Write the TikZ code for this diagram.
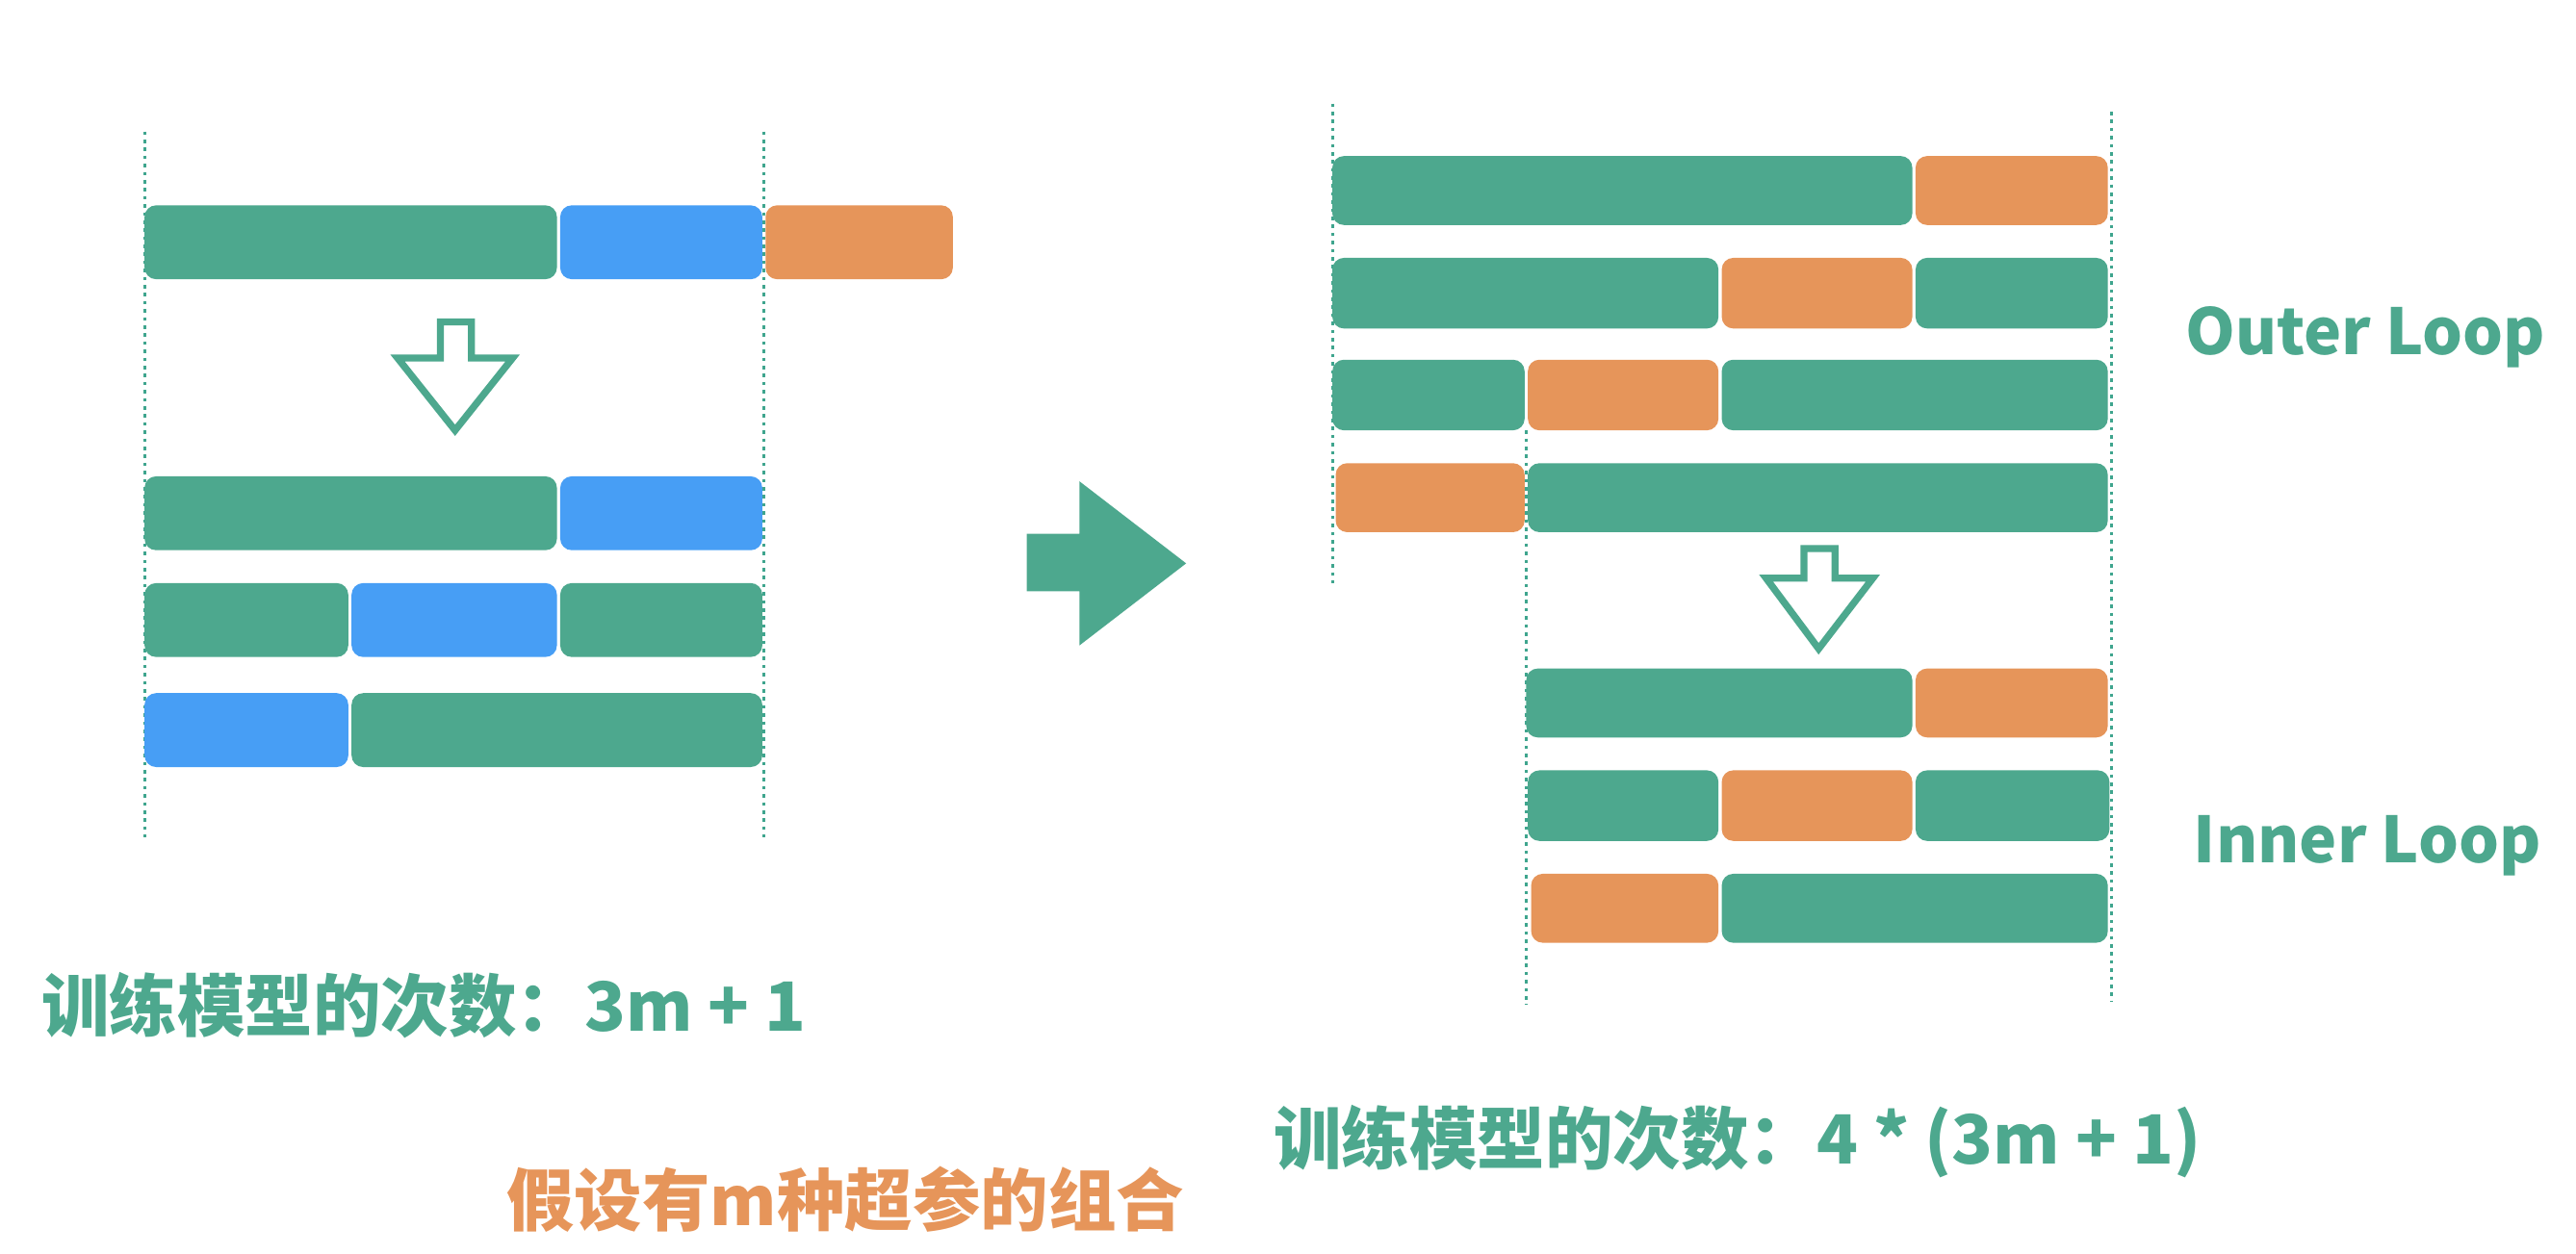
\documentclass[tikz,border=0pt]{standalone}
\usepackage{fontspec}
\newfontfamily\cjk{Noto Sans CJK SC}
\usetikzlibrary{positioning}

\begin{document}
\begin{tikzpicture}[x=0.2mm,y=-0.2mm,
  dots/.style={draw=guide,line width=1pt,dash pattern=on 1.2pt off 1.6pt},
  gbar/.style={fill=train,rounded corners=4pt},
  bbar/.style={fill=valid,rounded corners=4pt},
  obar/.style={fill=test,rounded corners=4pt},
  hollow/.style={draw=train,line width=0.85mm,fill=white,line join=miter},
  label/.style={anchor=west,inner sep=0pt,font=\cjk\bfseries\fontsize{23.5}{28}\selectfont},
  loop/.style={label,font=\cjk\bfseries\fontsize{22}{26}\selectfont}]
\definecolor{train}{RGB}{77,168,142}
\definecolor{valid}{RGB}{71,158,245}
\definecolor{test}{RGB}{230,149,90}
\definecolor{guide}{RGB}{63,165,142}

\useasboundingbox (0,0) rectangle (1568,763);

% Left: one split, then k-fold on the training part.
\draw[dots] (88,80)--(88,510);
\draw[dots] (465,80)--(465,510);
\fill[gbar] (88,125) rectangle (339,170);
\fill[bbar] (341,125) rectangle (464,170);
\fill[obar] (466,125) rectangle (580,170);
\draw[hollow] (268,196)--(287,196)--(287,218)--(312,218)--(277,262)--(242,218)--(268,218)--cycle;
\fill[gbar] (88,290) rectangle (339,335);
\fill[bbar] (341,290) rectangle (464,335);
\fill[gbar] (88,355) rectangle (212,400);
\fill[bbar] (214,355) rectangle (339,400);
\fill[gbar] (341,355) rectangle (464,400);
\fill[bbar] (88,422) rectangle (212,467);
\fill[gbar] (214,422) rectangle (464,467);
\node[label,text=train] (countL) at (25,612) {训练模型的次数：3m + 1};

% Middle arrow.
\fill[train] (625,325)--(657,325)--(657,293)--(722,343)--(657,393)--(657,360)--(625,360)--cycle;
\node[label,text=test] (combo) at (308,730) {假设有m种超参的组合};

% Right: outer loop.
\draw[dots] (811,63)--(811,355);
\draw[dots] (1285,68)--(1285,610);
\draw[dots] (929,262)--(929,612);
\fill[gbar] (811,95) rectangle (1164,137);
\fill[obar] (1166,95) rectangle (1283,137);
\fill[gbar] (811,157) rectangle (1046,200);
\fill[obar] (1048,157) rectangle (1164,200);
\fill[gbar] (1166,157) rectangle (1283,200);
\fill[gbar] (811,219) rectangle (928,262);
\fill[obar] (930,219) rectangle (1046,262);
\fill[gbar] (1048,219) rectangle (1283,262);
\fill[obar] (813,282) rectangle (928,324);
\fill[gbar] (930,282) rectangle (1283,324);
\node[loop,text=train] (outer) at (1330,205) {Outer Loop};

% Right: inner loop.
\draw[hollow] (1098,334)--(1117,334)--(1117,352)--(1140,352)--(1107,395)--(1075,352)--(1098,352)--cycle;
\fill[gbar] (929,407) rectangle (1164,449);
\fill[obar] (1166,407) rectangle (1283,449);
\fill[gbar] (930,469) rectangle (1046,512);
\fill[obar] (1048,469) rectangle (1164,512);
\fill[gbar] (1166,469) rectangle (1284,512);
\fill[obar] (932,532) rectangle (1046,574);
\fill[gbar] (1048,532) rectangle (1283,574);
\node[loop,text=train] (inner) at (1335,515) {Inner Loop};

\node[label,text=train] (countR) at (775,695) {训练模型的次数：4 * (3m + 1)};
\end{tikzpicture}
\end{document}
